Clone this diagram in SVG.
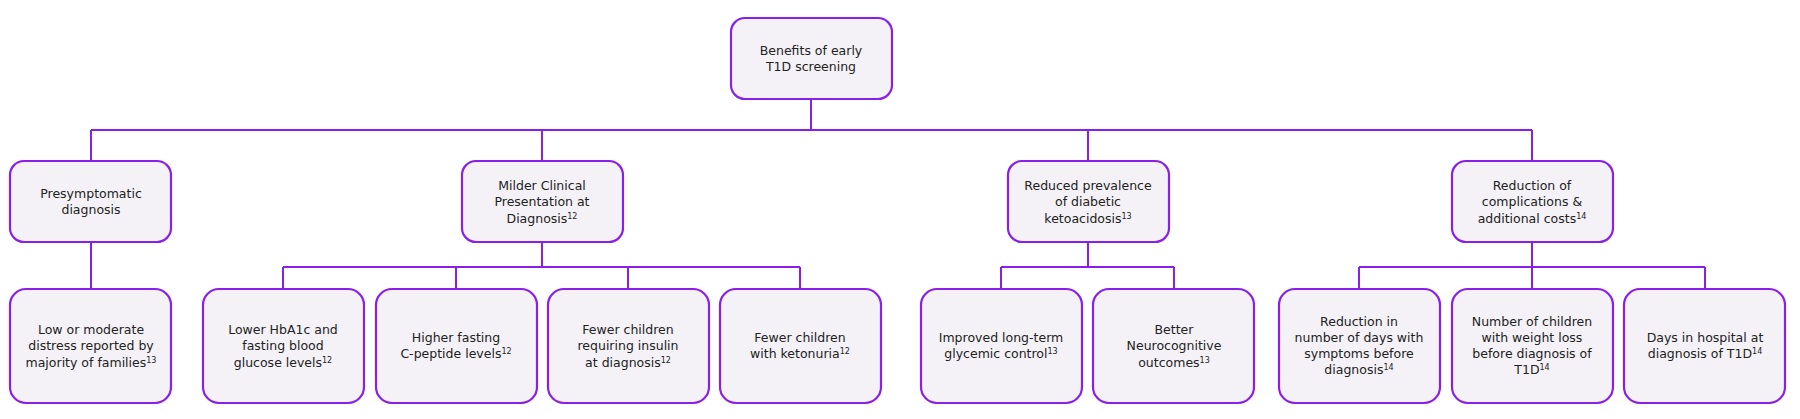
<svg xmlns="http://www.w3.org/2000/svg" width="1800" height="419" viewBox="0 0 1800 419">
<style>
.b{fill:#f4f2f7;stroke:#8a1fe8;stroke-width:2.2}
.c{fill:none;stroke:#8a1fe8;stroke-width:2}
text{font-family:"DejaVu Sans",Verdana,sans-serif;font-size:12.5px;fill:#222;text-anchor:middle}
.s{font-size:8px;baseline-shift:super}
</style>
<rect width="1800" height="419" fill="#fff"/>
<g id="connectors" class="c">
<path d="M811 99V130M91 130H1532M91 130V161M542 130V161M1088 130V161M1532 130V161"/>
<path d="M91 242V289"/>
<path d="M542 242V267M283 267H800M283 267V289M456 267V289M628 267V289M800 267V289"/>
<path d="M1088 242V267M1001 267H1174M1001 267V289M1174 267V289"/>
<path d="M1532 242V267M1359 267H1705M1359 267V289M1532 267V289M1705 267V289"/>
</g>
<g id="n0"><rect class="b" x="731" y="18" width="161" height="81" rx="14"/><text x="811" y="55">Benefits of early</text><text x="811" y="71">T1D screening</text></g>
<g id="n1"><rect class="b" x="10" y="161" width="161" height="81" rx="14"/><text x="91" y="198">Presymptomatic</text><text x="91" y="214">diagnosis</text></g>
<g id="n2"><rect class="b" x="462" y="161" width="161" height="81" rx="14"/><text x="542" y="190">Milder Clinical</text><text x="542" y="206">Presentation at</text><text x="542" y="223">Diagnosis<tspan class="s">12</tspan></text></g>
<g id="n3"><rect class="b" x="1008" y="161" width="161" height="81" rx="14"/><text x="1088" y="190">Reduced prevalence</text><text x="1088" y="206">of diabetic</text><text x="1088" y="223">ketoacidosis<tspan class="s">13</tspan></text></g>
<g id="n4"><rect class="b" x="1452" y="161" width="161" height="81" rx="14"/><text x="1532" y="190">Reduction of</text><text x="1532" y="206">complications &amp;</text><text x="1532" y="223">additional costs<tspan class="s">14</tspan></text></g>
<g id="n5"><rect class="b" x="10" y="289" width="161" height="114" rx="16"/><text x="91" y="334">Low or moderate</text><text x="91" y="350">distress reported by</text><text x="91" y="367">majority of families<tspan class="s">13</tspan></text></g>
<g id="n6"><rect class="b" x="203" y="289" width="161" height="114" rx="16"/><text x="283" y="334">Lower HbA1c and</text><text x="283" y="350">fasting blood</text><text x="283" y="367">glucose levels<tspan class="s">12</tspan></text></g>
<g id="n7"><rect class="b" x="376" y="289" width="161" height="114" rx="16"/><text x="456" y="342">Higher fasting</text><text x="456" y="358">C-peptide levels<tspan class="s">12</tspan></text></g>
<g id="n8"><rect class="b" x="548" y="289" width="161" height="114" rx="16"/><text x="628" y="334">Fewer children</text><text x="628" y="350">requiring insulin</text><text x="628" y="367">at diagnosis<tspan class="s">12</tspan></text></g>
<g id="n9"><rect class="b" x="720" y="289" width="161" height="114" rx="16"/><text x="800" y="342">Fewer children</text><text x="800" y="358">with ketonuria<tspan class="s">12</tspan></text></g>
<g id="n10"><rect class="b" x="921" y="289" width="161" height="114" rx="16"/><text x="1001" y="342">Improved long-term</text><text x="1001" y="358">glycemic control<tspan class="s">13</tspan></text></g>
<g id="n11"><rect class="b" x="1093" y="289" width="161" height="114" rx="16"/><text x="1174" y="334">Better</text><text x="1174" y="350">Neurocognitive</text><text x="1174" y="367">outcomes<tspan class="s">13</tspan></text></g>
<g id="n12"><rect class="b" x="1279" y="289" width="161" height="114" rx="16"/><text x="1359" y="326">Reduction in</text><text x="1359" y="342">number of days with</text><text x="1359" y="358">symptoms before</text><text x="1359" y="374">diagnosis<tspan class="s">14</tspan></text></g>
<g id="n13"><rect class="b" x="1452" y="289" width="161" height="114" rx="16"/><text x="1532" y="326">Number of children</text><text x="1532" y="342">with weight loss</text><text x="1532" y="358">before diagnosis of</text><text x="1532" y="374">T1D<tspan class="s">14</tspan></text></g>
<g id="n14"><rect class="b" x="1624" y="289" width="161" height="114" rx="16"/><text x="1705" y="342">Days in hospital at</text><text x="1705" y="358">diagnosis of T1D<tspan class="s">14</tspan></text></g>
</svg>
